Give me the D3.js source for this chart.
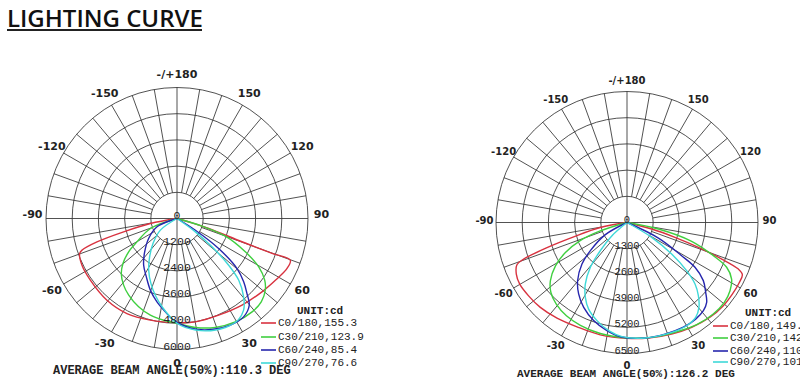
<!DOCTYPE html>
<html>
<head>
<meta charset="utf-8">
<script src="https://cdn.jsdelivr.net/npm/d3@7"></script>
<style>
  html, body { margin: 0; padding: 0; background: #fff; }
  svg { display: block; }
</style>
</head>
<body>
<div id="chart"></div>
<script>
// ---- data (gamma angle in degrees, intensity in cd) ----
const angleTicks = [-150, -120, -90, -60, -30, 0, 30, 60, 90, 120, 150, 180];
const leftRings = [0, 1200, 2400, 3600, 4800, 6000];
const rightRings = [0, 1300, 2600, 3900, 5200, 6500];

const leftC0 = [[-90,0],[-79.4,1240],[-76,2520],[-73.7,3820],[-71.6,4580],[-70.2,4740],[-63.8,4850],[-54.6,4870],[-40.6,4930],[-27.8,4920],[-14.7,4810],[0,4770],[10.1,4810],[23.3,4820],[36.9,4960],[49.2,5140],[57.9,5320],[65.6,5535],[69.8,5530],[69.9,4640],[70.3,3160],[72.5,1520],[73.9,720],[90,0]];
const leftC30 = [[-90,0],[-69.4,1300],[-59.7,2120],[-55.4,2690],[-50.2,3220],[-45.3,3590],[-38.7,3910],[-32.2,4150],[-23.5,4410],[-15.4,4590],[-7.5,4700],[0,4800],[9.5,5060],[19.4,5290],[29.4,5440],[38.8,5490],[45.3,5430],[50.9,5210],[54.9,4910],[59.4,4350],[64,3480],[69.9,2360],[73,1200],[90,0]];
const leftC60 = [[-90,0],[-67.4,990],[-54.8,1590],[-43,2190],[-35.5,2630],[-27.7,3020],[-20.4,3500],[-13.5,3930],[-7.1,4310],[-1.9,4660],[7.8,5085],[17.5,5330],[26.6,5460],[34.1,5440],[39.8,5170],[43,4700],[46.5,4210],[50.2,3580],[54.2,2350],[57.5,1000],[90,0]];
const leftC90 = [[-90,0],[-55,930],[-43.8,1590],[-35.5,2160],[-28.7,2700],[-21.8,3210],[-15.8,3650],[-9.6,4100],[-3.9,4520],[0,4800],[4.3,5000],[14.2,5310],[23.9,5460],[31,5430],[36,5190],[40.4,4710],[45,4000],[47.9,3190],[51,2060],[54,1040],[90,0]];

const rightC0 = [[-90,0],[-79.4,1350],[-75,2740],[-72.6,4160],[-70.5,5440],[-69,5850],[-65,6060],[-60.1,6140],[-53.3,6090],[-45.6,6020],[-36.2,5880],[-25.6,5740],[-13.4,5730],[0,5750],[10.5,5830],[21.8,5960],[31.7,6110],[41.2,6250],[49.2,6315],[55.8,6320],[61.5,6320],[65.7,6280],[67.3,5990],[68.9,5040],[70.8,3750],[72.8,2490],[75.2,1270],[90,0]];
const rightC30 = [[-90,0],[-72.6,1390],[-68.9,2490],[-64,3400],[-58.8,4150],[-52.7,4780],[-47.4,5130],[-40.9,5360],[-33,5520],[-24.4,5600],[-13.5,5665],[0,5730],[12.1,5830],[23.6,5950],[34.3,6140],[43.3,6240],[50.6,6250],[56.5,6130],[61.6,5900],[65.8,5420],[69,4590],[73.8,3340],[78.3,1590],[90,0]];
const rightC60 = [[-90,0],[-60.7,1230],[-52.5,2290],[-47.3,3040],[-40.3,3790],[-34.1,4280],[-27,4730],[-18.8,5140],[-10.5,5460],[-3.3,5680],[8.9,5800],[18.8,5850],[28.3,5900],[35.4,5880],[40.9,5790],[44.9,5600],[48.4,5220],[52.7,4760],[56.6,4040],[58.7,3170],[63.7,1740],[90,0]];
const rightC90 = [[-90,0],[-48.7,990],[-43.4,1930],[-39.3,2870],[-34.1,3690],[-29.1,4250],[-23.9,4700],[-17,5090],[-9.6,5440],[-2.5,5670],[8.9,5800],[19.6,5870],[29.1,5920],[35.9,5810],[40.3,5520],[44.3,5070],[47.9,4550],[51.1,3800],[54.8,2710],[59,1430],[90,0]];

const leftLegend = ['C0/180,155.3', 'C30/210,123.9', 'C60/240,85.4', 'C90/270,76.6'];
const rightLegend = ['C0/180,149.8', 'C30/210,142.3', 'C60/240,110.4', 'C90/270,101.7'];
const colors = ['#d8323f', '#3fcf3f', '#2626ad', '#3ed8d8'];

const width = 800, height = 382;

const svg = d3.select('#chart').append('svg')
  .attr('width', width)
  .attr('height', height)
  .style('background', '#fff');

// title
svg.append('text')
  .attr('x', 7).attr('y', 27)
  .attr('font-family', 'Open Sans, sans-serif')
  .attr('font-weight', 600)
  .attr('font-size', 24)
  .attr('fill', '#111')
  .text('LIGHTING CURVE');
svg.append('line')
  .attr('x1', 7).attr('x2', 202).attr('y1', 30).attr('y2', 30)
  .attr('stroke', '#222').attr('stroke-width', 2);

function drawPolar(cfg) {
  const g = svg.append('g');
  const rMax = cfg.rings[cfg.rings.length - 1];
  const r = d3.scaleLinear().domain([0, rMax]).range([0, cfg.R]);
  // gamma 0 points down, positive to the right
  const ang = d3.scaleLinear().domain([0, 180]).range([Math.PI, 0]);
  const pt = (deg, rad) => [cfg.cx + rad * Math.sin(ang(deg)), cfg.cy - rad * Math.cos(ang(deg))];

  const grid = g.append('g').attr('stroke', '#333').attr('stroke-width', 0.85).attr('fill', 'none');
  cfg.rings.slice(1).forEach(v => {
    grid.append('circle').attr('cx', cfg.cx).attr('cy', cfg.cy).attr('r', r(v));
  });
  d3.range(0, 360, 10).forEach(d => {
    const inner = d % 90 === 0 ? 0 : r(cfg.rings[1]);
    const a = pt(d, inner), b = pt(d, cfg.R);
    grid.append('line').attr('x1', a[0]).attr('y1', a[1]).attr('x2', b[0]).attr('y2', b[1]);
  });

  // curves
  const line = d3.lineRadial()
    .angle(d => ang(d[0]))
    .radius(d => r(d[1]))
    .curve(d3.curveCatmullRom.alpha(0.5));
  cfg.series.forEach((s, i) => {
    g.append('path')
      .attr('transform', `translate(${cfg.cx},${cfg.cy})`)
      .attr('d', line(s))
      .attr('fill', 'none')
      .attr('stroke', colors[i])
      .attr('stroke-width', 1.4);
  });

  // ring labels
  g.selectAll('.ring-label').data(cfg.rings).enter().append('text')
    .attr('x', cfg.cx)
    .attr('y', v => cfg.cy + r(v))
    .attr('text-anchor', 'middle')
    .attr('font-family', 'Liberation Mono, monospace')
    .attr('font-size', cfg.ringFont)
    .attr('fill', '#222')
    .text(v => v);

  // angle labels
  g.selectAll('.angle-label').data(angleTicks).enter().append('text')
    .attr('x', d => pt(d, cfg.labelR)[0])
    .attr('y', d => pt(d, cfg.labelR)[1] - (Math.abs(d) === 90 ? cfg.sideLift : 0))
    .attr('text-anchor', 'middle')
    .attr('dominant-baseline', 'central')
    .attr('font-family', 'DejaVu Sans, sans-serif')
    .attr('font-weight', 'bold')
    .attr('font-size', cfg.angleFont)
    .attr('fill', '#222')
    .text(d => d === 180 ? '-/+180' : d);

  // legend
  const lg = g.append('g').attr('font-family', 'Liberation Mono, monospace').attr('font-size', 11).attr('fill', '#222');
  lg.append('text')
    .attr('x', cfg.unitX).attr('y', cfg.unitY)
    .attr('dominant-baseline', 'central')
    .attr('font-weight', 'bold')
    .text('UNIT:cd');
  cfg.legend.forEach((t, i) => {
    const y = cfg.legY[i];
    lg.append('line')
      .attr('x1', cfg.legX).attr('x2', cfg.legX + 15)
      .attr('y1', y).attr('y2', y)
      .attr('stroke', colors[i]).attr('stroke-width', 1.6);
    lg.append('text')
      .attr('x', cfg.legX + 17).attr('y', y)
      .attr('dominant-baseline', 'central')
      .text(t);
  });

  g.append('text')
    .attr('x', cfg.beamX).attr('y', cfg.beamY)
    .attr('dominant-baseline', 'central')
    .attr('font-family', 'Liberation Mono, monospace')
    .attr('font-weight', 'bold')
    .attr('font-size', cfg.beamFont)
    .attr('fill', '#222')
    .text(cfg.beamText);
}

drawPolar({
  cx: 177, cy: 218.5, R: 131, rings: leftRings, series: [leftC0, leftC30, leftC60, leftC90],
  ringFont: 11.5, angleFont: 11, labelR: 144.5, sideLift: 4,
  legend: leftLegend, unitX: 297, unitY: 311, legX: 261, legY: [323, 337, 350, 363],
  beamX: 53, beamY: 371, beamFont: 12, beamText: 'AVERAGE BEAM ANGLE(50%):110.3 DEG'
});

drawPolar({
  cx: 627, cy: 222.5, R: 131, rings: rightRings, series: [rightC0, rightC30, rightC60, rightC90],
  ringFont: 10.5, angleFont: 10, labelR: 142.5, sideLift: 2.5,
  legend: rightLegend, unitX: 745, unitY: 313, legX: 713, legY: [326, 338, 351, 362],
  beamX: 517, beamY: 374, beamFont: 11, beamText: 'AVERAGE BEAM ANGLE(50%):126.2 DEG'
});
</script>
</body>
</html>
